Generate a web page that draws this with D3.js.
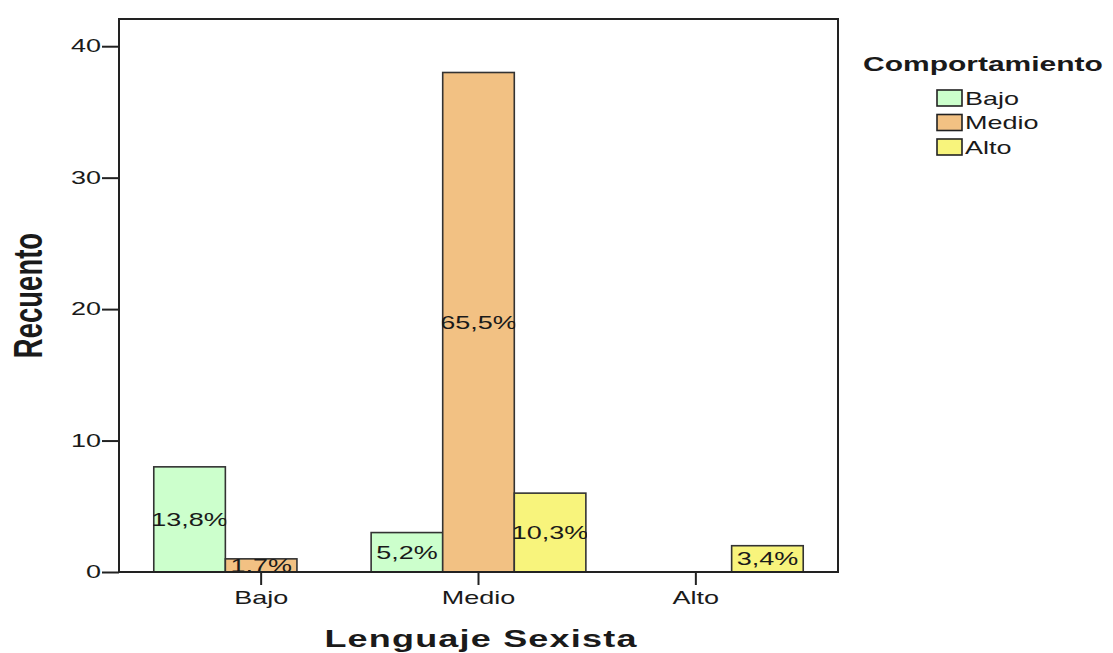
<!DOCTYPE html>
<html>
<head>
<meta charset="utf-8">
<script src="https://cdn.jsdelivr.net/npm/d3@7"></script>
<style>
  body { margin: 0; background: #fff; }
  text { font-family: "Liberation Sans", Arial, sans-serif; fill: #1a1a1a; }
</style>
</head>
<body>
<div id="container"></div>
<script>
// Lenguaje Sexista (x categories) and Comportamiento (series)
const categories = ["Bajo", "Medio", "Alto"];
const series = ["Bajo", "Medio", "Alto"];
const countsBajo = [8, 3, 0];
const countsMedio = [1, 38, 0];
const countsAlto = [0, 6, 2];
const labelsBajo = ["13,8%", "5,2%", ""];
const labelsMedio = ["1,7%", "65,5%", ""];
const labelsAlto = ["", "10,3%", "3,4%"];
const yTicks = [0, 10, 20, 30, 40];
const colors = ["#ccffcc", "#f2c183", "#f8f47c"];

const width = 1113;
const height = 653;
const margin = ({ top: 19, right: 275, bottom: 81, left: 119 });
const sx = 1.5; // the picture is stretched sideways

const counts = [countsBajo, countsMedio, countsAlto];
const labels = [labelsBajo, labelsMedio, labelsAlto];

let bars = [];
categories.forEach((c, i) => {
    series.forEach((s, j) => {
        if (counts[j][i] > 0) bars.push({ cat: c, ser: s, si: j, v: counts[j][i], label: labels[j][i] });
    });
});

let x = d3.scaleBand()
    .domain(categories)
    .range([margin.left, width - margin.right])
    .paddingOuter(0.16)
    .paddingInner(0.012);

let xs = d3.scaleBand()
    .domain(series)
    .range([0, x.bandwidth()]);

let y = d3.scaleLinear()
    .domain([0, 42.07])
    .range([height - margin.bottom, margin.top]);

let svg = d3.select("#container").append("svg")
    .attr("width", width)
    .attr("height", height);

svg.append("rect").attr("width", width).attr("height", height).attr("fill", "#fff");

// stretch tick labels made by d3 axes
let stretchTicks = g => g.selectAll("text")
    .attr("transform", `scale(${sx},1)`)
    .attr("x", function () { return +this.getAttribute("x") / sx; });

let yAxis = g => g
    .attr("transform", `translate(${margin.left},0)`)
    .call(d3.axisLeft(y).tickValues(yTicks).tickSize(17).tickPadding(1).tickSizeOuter(0))
    .call(g => g.select(".domain").remove())
    .call(g => g.selectAll("line").attr("stroke", "#222").attr("stroke-width", 2))
    .call(g => g.selectAll("text").attr("font-size", 18).attr("fill", "#1a1a1a").attr("font-family", null))
    .call(stretchTicks);

let xAxis = g => g
    .attr("transform", `translate(0,${height - margin.bottom})`)
    .call(d3.axisBottom(x).tickSize(13).tickPadding(6).tickSizeOuter(0))
    .call(g => g.select(".domain").remove())
    .call(g => g.selectAll("line").attr("stroke", "#222").attr("stroke-width", 2))
    .call(g => g.selectAll("text").attr("font-size", 18).attr("fill", "#1a1a1a").attr("font-family", null))
    .call(stretchTicks);

svg.append("g").call(yAxis);
svg.append("g").call(xAxis);

// bars
let defs = svg.append("defs");
defs.selectAll("clipPath")
    .data(bars)
    .join("clipPath")
    .attr("id", (d, i) => "clip" + i)
    .append("rect")
    .attr("x", d => x(d.cat) + xs(d.ser) - 1)
    .attr("y", d => y(d.v) - 1)
    .attr("width", xs.bandwidth() + 2)
    .attr("height", d => y(0) - y(d.v) + 1);

svg.append("g")
    .selectAll("rect")
    .data(bars)
    .join("rect")
    .attr("x", d => x(d.cat) + xs(d.ser))
    .attr("y", d => y(d.v))
    .attr("width", xs.bandwidth())
    .attr("height", d => y(0) - y(d.v))
    .attr("fill", d => colors[d.si])
    .attr("stroke", "#333")
    .attr("stroke-width", 1.6);

svg.append("g")
    .selectAll("g")
    .data(bars)
    .join("g")
    .attr("clip-path", (d, i) => `url(#clip${i})`)
    .append("text")
    .attr("transform", d => `translate(${x(d.cat) + xs(d.ser) + xs.bandwidth() / 2},${(y(d.v) + y(0)) / 2}) scale(${sx},1)`)
    .attr("text-anchor", "middle")
    .attr("dy", "0.36em")
    .attr("font-size", 18)
    .text(d => d.label);

// frame
svg.append("rect")
    .attr("x", margin.left)
    .attr("y", margin.top)
    .attr("width", width - margin.right - margin.left)
    .attr("height", height - margin.bottom - margin.top)
    .attr("fill", "none")
    .attr("stroke", "#222")
    .attr("stroke-width", 2);

// axis titles
svg.append("text")
    .attr("transform", `translate(481,647) scale(${sx},1)`)
    .attr("text-anchor", "middle")
    .attr("font-size", 24)
    .attr("font-weight", "bold")
    .attr("letter-spacing", 0.8)
    .text("Lenguaje Sexista");

svg.append("text")
    .attr("transform", `translate(42,${(margin.top + height - margin.bottom) / 2}) scale(${sx},1) rotate(-90)`)
    .attr("text-anchor", "middle")
    .attr("font-size", 27.5)
    .attr("font-weight", "bold")
    .text("Recuento");

// legend
let legend = svg.append("g");
legend.append("text")
    .attr("transform", `translate(863,71) scale(${sx},1)`)
    .attr("font-size", 20)
    .attr("font-weight", "bold")
    .text("Comportamiento");

let item = legend.selectAll("g")
    .data(series)
    .join("g")
    .attr("transform", (d, i) => `translate(937,${90 + i * 24.5})`);

item.append("rect")
    .attr("width", 25)
    .attr("height", 16)
    .attr("fill", (d, i) => colors[i])
    .attr("stroke", "#222")
    .attr("stroke-width", 1.6);

item.append("text")
    .attr("transform", `translate(28,14.5) scale(${sx},1)`)
    .attr("font-size", 18)
    .text(d => d);
</script>
</body>
</html>
